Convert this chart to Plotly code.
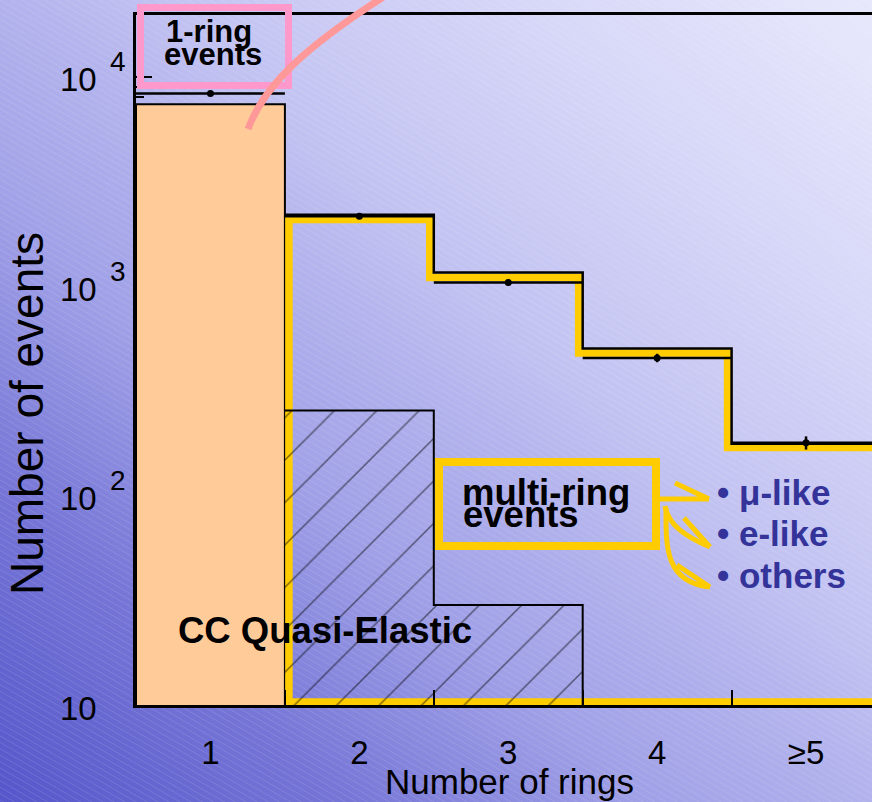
import numpy as np
import plotly.graph_objects as go

W, H = 872, 802
FONT = "Liberation Sans, Arial, sans-serif"

# ---------------- data ----------------
ring_bins = [1, 2, 3, 4, 5]
ring_labels = ["1", "2", "3", "4", "≥5"]
bin_edges = [0.5, 1.5, 2.5, 3.5, 4.5, 5.5]
data_counts = [8330, 2160, 1043, 455, 179]          # points with error bars
data_errors = [91, 46, 32, 21, 13]
ccqe_counts = [7400, 255, 30, 0, 0]                  # CC quasi-elastic (orange / hatched)
mc_total_multi = [2200, 1165, 504, 177]              # black histogram, bins 2..>=5
multi_ring = [2085, 1102, 480, 170]                  # yellow multi-ring outline, bins 2..>=5
y_tick_exps = [1, 2, 3, 4]

# ---------------- axes geometry (styling) ----------------
X_RANGE = [0.5, 5.443]
Y_RANGE = [1.0, 4.296]
PLOT_L, PLOT_R, PLOT_T, PLOT_B = 136.0, 872.0, 15.0, 705.0
px_per_x = (PLOT_R - PLOT_L) / (X_RANGE[1] - X_RANGE[0])
px_per_dec = (PLOT_B - PLOT_T) / (Y_RANGE[1] - Y_RANGE[0])
FLOOR = 1.0  # below visible range


def step_xy(edges, vals):
    xs, ys = [], []
    for i, v in enumerate(vals):
        xs += [edges[i], edges[i + 1]]
        ys += [v, v]
    return xs, ys


fig = go.Figure()

# ---- background gradient + faint stripes (decoration) ----
gx = np.linspace(-0.1, 1.1, 13)
gy = np.linspace(-0.1, 1.1, 13)
gz = [[(xx + yy) / 2 for xx in gx] for yy in gy]
fig.add_trace(go.Heatmap(
    x=gx, y=gy, z=gz, xaxis="x", yaxis="y", zsmooth="best", showscale=False,
    hoverinfo="skip", zmin=0, zmax=1,
    colorscale=[[0.0, "rgb(86,86,203)"], [0.2, "rgb(118,118,215)"],
                [0.37, "rgb(160,160,231)"], [0.5, "rgb(178,178,237)"],
                [0.6, "rgb(195,195,242)"], [0.8, "rgb(215,215,248)"],
                [1.0, "rgb(232,232,252)"]]))

slope, vstep = 0.58, 6.4
sx, sy = [], []
c = -slope * W
while c < H:
    sx += [0.0, 1.0, None]
    sy += [1 - c / H, 1 - (c + slope * W) / H, None]
    c += vstep
fig.add_trace(go.Scatter(x=sx, y=sy, xaxis="x", yaxis="y", mode="lines",
                         line=dict(color="rgba(255,255,255,0.12)", width=1),
                         hoverinfo="skip"))

# ---- orange 1-ring CCQE bar ----
fig.add_trace(go.Bar(
    x=[ring_bins[0]], y=[ccqe_counts[0]], width=[1.0], xaxis="x2", yaxis="y2",
    marker=dict(color="#FFCC99", line=dict(color="black", width=2)), hoverinfo="skip"))

# ---- yellow multi-ring outline (drawn inset from the bin edges) ----
inset = 4.0
dx = inset / px_per_x
yb = 10 ** (Y_RANGE[0] + 3.0 / px_per_dec)
multi_edges = bin_edges[1:]
yx = [X_RANGE[1] + 0.2, multi_edges[0] + dx]
yy = [yb, yb]
for i, v in enumerate(multi_ring):
    left = multi_edges[i] + dx if i == 0 else multi_edges[i] - dx
    right = multi_edges[i + 1] - dx if i + 1 < len(multi_ring) else X_RANGE[1] + 0.2
    yx += [left, right]
    yy += [v, v]
fig.add_trace(go.Scatter(x=yx, y=yy, xaxis="x2", yaxis="y2", mode="lines",
                         line=dict(color="#FFCC00", width=7.5), hoverinfo="skip"))

# ---- hatched CCQE in multi-ring bins ----
hat_vals = [v for v in ccqe_counts[1:] if v > 0]
hx, hy = step_xy(bin_edges[1:1 + len(hat_vals) + 1], hat_vals)
fig.add_trace(go.Scatter(
    x=[hx[0]] + hx + [hx[-1]], y=[FLOOR] + hy + [FLOOR], xaxis="x2", yaxis="y2",
    mode="none", fill="toself", fillcolor="rgba(0,0,0,0)",
    fillpattern=dict(shape="/", size=30, solidity=0.05, fgcolor="black",
                     bgcolor="rgba(0,0,0,0)", fillmode="overlay"),
    hoverinfo="skip"))
fig.add_trace(go.Scatter(x=hx + [hx[-1]], y=hy + [FLOOR], xaxis="x2", yaxis="y2",
                         mode="lines", line=dict(color="black", width=2), hoverinfo="skip"))

# ---- black MC histogram (multi-ring bins) ----
mx, my = step_xy(bin_edges[1:], mc_total_multi)
fig.add_trace(go.Scatter(x=mx, y=my, xaxis="x2", yaxis="y2", mode="lines",
                         line=dict(color="black", width=2.5), hoverinfo="skip"))

# ---- data points ----
fig.add_trace(go.Scatter(
    x=ring_bins, y=data_counts, xaxis="x2", yaxis="y2", mode="markers",
    marker=dict(color="black", size=7),
    error_x=dict(type="constant", value=0.5, width=0, thickness=2.5, color="black"),
    error_y=dict(type="data", array=data_errors, width=0, thickness=2.5, color="black"),
    hoverinfo="skip"))


def P(px, py):
    return f"{px / W:.5f},{1 - py / H:.5f}"


def path(*segs):
    out = []
    for cmd, pts in segs:
        out.append(cmd + " " + " ".join(P(*p) for p in pts))
    return " ".join(out)


shapes = []
# pink box + pink curve
shapes.append(dict(type="rect", xref="paper", yref="paper",
                   x0=140.5 / W, x1=288.5 / W, y0=1 - 85.5 / H, y1=1 - 7.5 / H,
                   line=dict(color="#FF99CC", width=7)))
shapes.append(dict(type="path", xref="paper", yref="paper",
                   path=path(("M", [(248, 129)]), ("C", [(263, 88), (300, 50), (388, -6)])),
                   line=dict(color="#FF9999", width=7)))
# yellow box
shapes.append(dict(type="rect", xref="paper", yref="paper",
                   x0=439 / W, x1=656 / W, y0=1 - 546 / H, y1=1 - 462 / H,
                   line=dict(color="#FFCC00", width=8)))
# yellow arrows
YA = dict(color="#FFCC00", width=5)
arrow_paths = [
    path(("M", [(660, 499)]), ("L", [(709, 499)]),
         ("M", [(675, 483)]), ("L", [(709, 499), (670, 514)])),
    path(("M", [(665, 506)]), ("C", [(668, 524), (684, 536), (710, 547)]),
         ("M", [(684, 518)]), ("L", [(710, 547), (672, 551)])),
    path(("M", [(666, 508)]), ("C", [(666, 545), (664, 582), (710, 587)]),
         ("M", [(677, 565)]), ("L", [(710, 587), (672, 598)])),
]
for ap in arrow_paths:
    shapes.append(dict(type="path", xref="paper", yref="paper", path=ap, line=YA))

anns = []


def ann(text, px, py, size, color="black", bold=False, xanchor="center", angle=0):
    t = f"<b>{text}</b>" if bold else text
    anns.append(dict(text=t, x=px / W, y=1 - py / H, xref="paper", yref="paper",
                     xanchor=xanchor, yanchor="middle", showarrow=False, textangle=angle,
                     font=dict(family=FONT, size=size, color=color)))


# y tick labels (10, 10^2, ...) via the y2 axis scale
for e in y_tick_exps:
    anns.append(dict(text="10", x=98.5 / W, xref="paper", y=e, yref="y2", xanchor="right",
                     yanchor="middle", yshift=-3, showarrow=False,
                     font=dict(family=FONT, size=33, color="black")))
    if e > 1:
        anns.append(dict(text=str(e), x=108 / W, xref="paper", y=e, yref="y2", xanchor="left",
                         yanchor="middle", yshift=15, showarrow=False,
                         font=dict(family=FONT, size=28, color="black")))

ann("Number of rings", 509, 781, 35)
ann("Number of events", 27, 414, 46, angle=-90)
ann("1-ring", 164, 31.5, 31, bold=True, xanchor="left")
ann("events", 162, 54.5, 31, bold=True, xanchor="left")
ann("multi-ring", 460, 492, 36.5, bold=True, xanchor="left")
ann("events", 461, 514, 36.5, bold=True, xanchor="left")
ann("CC Quasi-Elastic", 325, 630, 36.5, bold=True)
ann("• μ-like", 715, 492.5, 35, color="#333399", bold=True, xanchor="left")
ann("• e-like", 715, 533, 35, color="#333399", bold=True, xanchor="left")
ann("• others", 715, 575, 35, color="#333399", bold=True, xanchor="left")

minor_y = [m * 10 ** k for k in range(1, 5) for m in range(2, 10)]

fig.update_layout(
    width=W, height=H, margin=dict(l=0, r=0, t=0, b=0, pad=0),
    paper_bgcolor="rgb(180,180,236)", plot_bgcolor="rgba(0,0,0,0)",
    showlegend=False, barmode="overlay",
    xaxis=dict(domain=[0, 1], range=[0, 1], visible=False, fixedrange=True),
    yaxis=dict(domain=[0, 1], range=[0, 1], visible=False, fixedrange=True),
    xaxis2=dict(domain=[PLOT_L / W, 1.0], range=X_RANGE, anchor="y2",
                showline=True, linecolor="black", linewidth=3, mirror=True,
                showgrid=False, zeroline=False, layer="above traces",
                tickmode="array", tickvals=ring_bins, ticktext=ring_labels, ticks="",
                ticklabelstandoff=16,
                tickfont=dict(family=FONT, size=33, color="black"),
                minor=dict(tickmode="array", tickvals=bin_edges[1:-1], ticks="inside",
                           ticklen=15, tickwidth=2, tickcolor="black", showgrid=False)),
    yaxis2=dict(domain=[1 - PLOT_B / H, 1 - PLOT_T / H], type="log", range=Y_RANGE,
                anchor="x2", showline=True, linecolor="black", linewidth=3, mirror=False,
                showgrid=False, zeroline=False, layer="below traces",
                tickmode="array", tickvals=[10 ** e for e in y_tick_exps], ticks="inside",
                ticklen=16, tickwidth=2, tickcolor="black", showticklabels=False,
                minor=dict(tickmode="array", tickvals=minor_y, ticks="inside", ticklen=8,
                           tickwidth=1.5, tickcolor="black", showgrid=False)),
    shapes=shapes, annotations=anns,
)

fig.write_html("out.html")
